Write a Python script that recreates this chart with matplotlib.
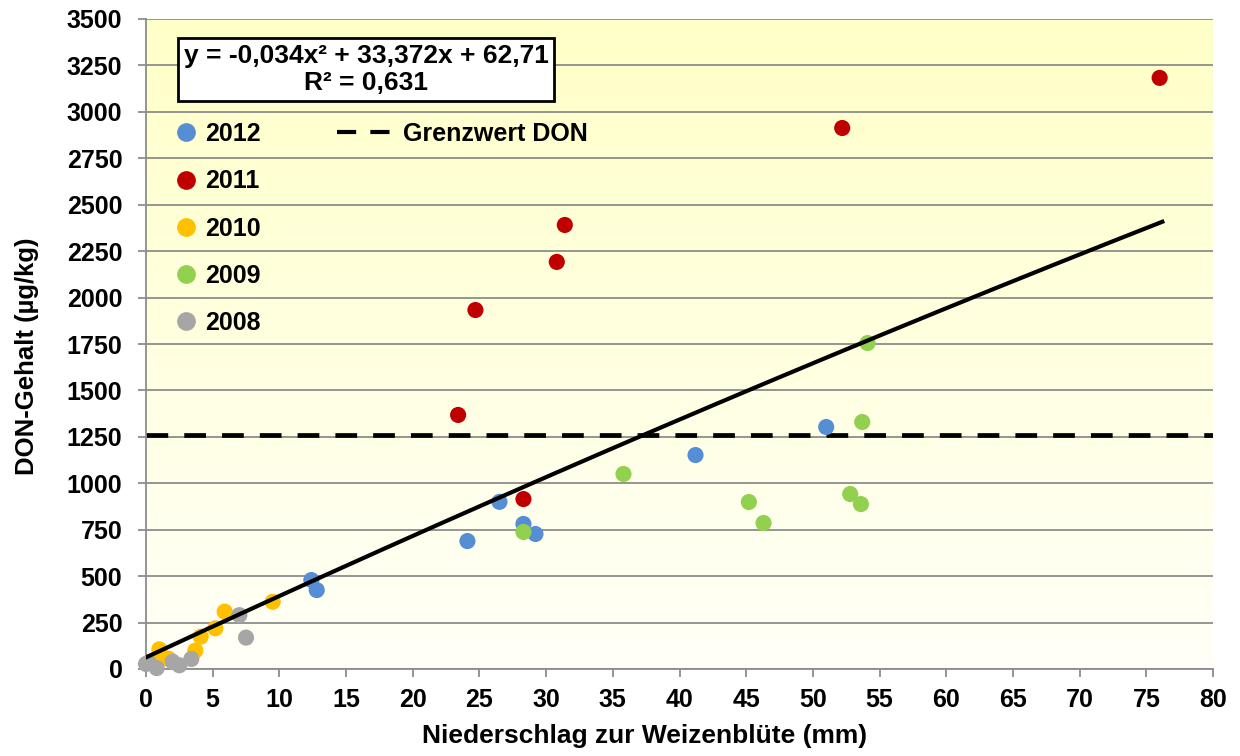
import numpy as np
import matplotlib
matplotlib.use("Agg")
import matplotlib.pyplot as plt
from matplotlib.lines import Line2D
from matplotlib.colors import LinearSegmentedColormap

plt.rcParams['font.family'] = ['Liberation Sans', 'DejaVu Sans']
plt.rcParams['font.weight'] = 'bold'

# Niederschlag (mm) / DON (µg/kg) per year
x_2012 = [12.4, 12.8, 24.1, 26.5, 28.3, 29.2, 41.2, 51.0]
y_2012 = [479, 425, 689, 900, 781, 727, 1152, 1303]
x_2011 = [23.4, 24.7, 28.3, 30.8, 31.4, 52.2, 76.0]
y_2011 = [1368, 1933, 915, 2192, 2391, 2913, 3183]
x_2010 = [1.0, 1.1, 1.7, 3.7, 4.1, 5.2, 5.9, 9.5]
y_2010 = [106, 52, 55, 99, 174, 219, 309, 362]
x_2009 = [28.3, 35.8, 45.2, 46.3, 52.8, 53.6, 53.7, 54.1]
y_2009 = [738, 1050, 899, 786, 942, 888, 1330, 1755]
x_2008 = [0.0, 0.2, 0.8, 2.0, 2.5, 3.4, 7.0, 7.5]
y_2008 = [27, 35, 5, 39, 20, 54, 290, 169]

grenzwert = 1262
fit = [-0.034, 33.372, 62.71]
fit_xmax = 76.2

years = ['2012', '2011', '2010', '2009', '2008']
colors = ['#558ED5', '#C00000', '#FFC000', '#92D050', '#A6A6A6']
xs = [x_2012, x_2011, x_2010, x_2009, x_2008]
ys = [y_2012, y_2011, y_2010, y_2009, y_2008]

fig = plt.figure(figsize=(12.4, 7.56), dpi=100)
ax = fig.add_axes([146 / 1240, 87 / 756, 1067 / 1240, 650 / 756])
ax.set_xlim(0, 80)
ax.set_ylim(0, 3500)

# gradient background
cmap = LinearSegmentedColormap.from_list('bg', ['#FFFFF8', '#FFFFC8'])
grad = np.linspace(0, 1, 256).reshape(-1, 1)
ax.imshow(grad, extent=[0, 80, 0, 3500], origin='lower', cmap=cmap,
          aspect='auto', zorder=0)

ax.set_yticks(np.arange(0, 3501, 250))
ax.set_xticks(np.arange(0, 81, 5))
ax.yaxis.grid(True, color='#8C8C8C', linewidth=1.3, zorder=1)
ax.set_axisbelow(True)
for s in ['top', 'right']:
    ax.spines[s].set_visible(False)
for s in ['left', 'bottom']:
    ax.spines[s].set_color('#8C8C8C')
    ax.spines[s].set_linewidth(1.3)
ax.tick_params(axis='both', direction='out', length=6, width=1.3,
               color='#8C8C8C', labelsize=18)
ax.tick_params(axis='y', pad=11)
ax.tick_params(axis='x', pad=8)
for lab in ax.get_xticklabels() + ax.get_yticklabels():
    lab.set_fontweight('bold')

ax.axhline(grenzwert, color='black', linewidth=3.4, dashes=(4.6, 3.4), zorder=2)

xf = np.linspace(0, fit_xmax, 200)
ax.plot(xf, np.polyval(fit, xf), color='black', linewidth=3, zorder=4)

handles = []
for x, y, c, yr in zip(xs, ys, colors, years):
    ax.scatter(x, y, s=135, color=c, edgecolors='none', zorder=3, clip_on=False)
    handles.append(Line2D([], [], marker='o', linestyle='none', markersize=13.5,
                          markerfacecolor=c, markeredgecolor='none', label=yr))

leg1 = ax.legend(handles=handles, loc='upper left',
                 bbox_to_anchor=((173 - 146) / 1067, (669 - 122) / 650),
                 frameon=False, prop={'weight': 'bold', 'size': 18},
                 labelspacing=0.93, handletextpad=0.3, handlelength=1.0,
                 borderpad=0, borderaxespad=0)
ax.add_artist(leg1)

grenz = Line2D([], [], color='black', linewidth=3, dashes=(4.6, 3.4),
               label='Grenzwert DON')
ax.legend(handles=[grenz], loc='upper left',
          bbox_to_anchor=((337 - 146) / 1067, (669 - 122) / 650),
          frameon=False, prop={'weight': 'bold', 'size': 18},
          handletextpad=0.5, handlelength=2.15, borderpad=0, borderaxespad=0)

ax.text((366 - 146) / 1067, (669 - 69.5) / 650,
        'y = -0,034x² + 33,372x + 62,71\nR² = 0,631',
        transform=ax.transAxes, ha='center', va='center', fontsize=19,
        fontweight='bold', linespacing=1.15,
        bbox=dict(boxstyle='square,pad=0.22', facecolor='white',
                  edgecolor='black', linewidth=2), zorder=6)

ax.set_xlabel('Niederschlag zur Weizenblüte (mm)', fontsize=19, fontweight='bold')
ax.xaxis.set_label_coords((645 - 146) / 1067, -(724 - 669) / 650)
ax.set_ylabel('DON-Gehalt (µg/kg)', fontsize=18.5, fontweight='bold')
ax.yaxis.set_label_coords((39 - 146) / 1067, (669 - 356) / 650)

fig.savefig('out.png', dpi=100)
